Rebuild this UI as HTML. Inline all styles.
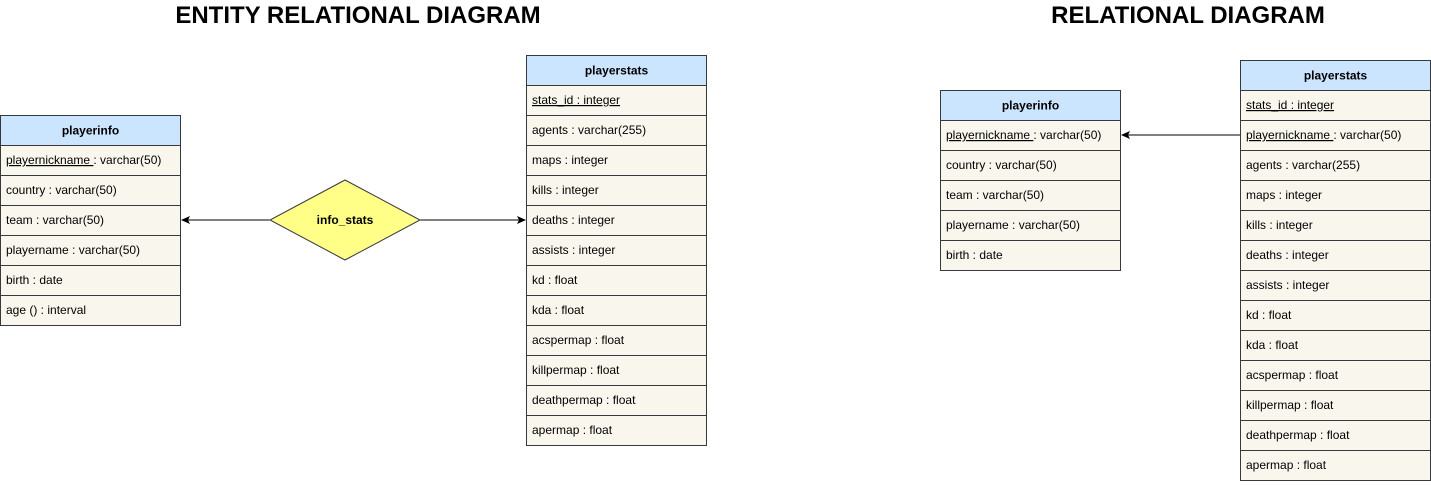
<!DOCTYPE html><html><head><style>
body{margin:0;background:#fff;width:1431px;height:481px;overflow:hidden;font-family:"Liberation Sans",Arial,sans-serif}
</style></head><body>
<svg width="1431" height="481" xmlns="http://www.w3.org/2000/svg" font-family="Liberation Sans, Arial, sans-serif">
<defs><marker id="a" markerWidth="10" markerHeight="10" refX="8" refY="4" orient="auto" markerUnits="userSpaceOnUse"><path d="M0,0 L9,4 L0,8 L2,4z" fill="#000"/></marker></defs>
<text x="358" y="23" text-anchor="middle" font-size="24" font-weight="bold">ENTITY RELATIONAL DIAGRAM</text>
<text x="1188" y="23" text-anchor="middle" font-size="24" font-weight="bold">RELATIONAL DIAGRAM</text>
<g id="tables" font-size="12" fill="#000"></g>
<line x1="270" y1="220" x2="182" y2="220" stroke="#000" marker-end="url(#a)"/>
<line x1="420" y1="220" x2="525" y2="220" stroke="#000" marker-end="url(#a)"/>
<polygon points="345,180 420,220 345,260 270,220" fill="#ffff88" stroke="#36393d"/>
<text x="345" y="224" text-anchor="middle" font-size="12" font-weight="bold">info_stats</text>
<line x1="1240" y1="135" x2="1122" y2="135" stroke="#000" marker-end="url(#a)"/>
</svg>
<script>
const T=[
[0.5,115.5,180,"playerinfo",["<u>playernickname </u>: varchar(50)","country : varchar(50)","team : varchar(50)","playername : varchar(50)","birth : date","age () : interval"]],
[526.5,55.5,180,"playerstats",["<u>stats_id : integer</u>","agents : varchar(255)","maps : integer","kills : integer","deaths : integer","assists : integer","kd : float","kda : float","acspermap : float","killpermap : float","deathpermap : float","apermap : float"]],
[940.5,90.5,180,"playerinfo",["<u>playernickname </u>: varchar(50)","country : varchar(50)","team : varchar(50)","playername : varchar(50)","birth : date"]],
[1240.5,60.5,190,"playerstats",["<u>stats_id : integer</u>","<u>playernickname </u>: varchar(50)","agents : varchar(255)","maps : integer","kills : integer","deaths : integer","assists : integer","kd : float","kda : float","acspermap : float","killpermap : float","deathpermap : float","apermap : float"]]];
let s="";
for(const [x,y,w,h,r] of T){
s+=`<rect x="${x}" y="${y}" width="${w}" height="30" fill="#cce5ff" stroke="#36393d"/><text x="${x+w/2}" y="${y+19}" text-anchor="middle" font-weight="bold">${h}</text>`;
r.forEach((t,i)=>{const yy=y+30+i*30;s+=`<rect x="${x}" y="${yy}" width="${w}" height="30" fill="#f9f7ed" stroke="#36393d"/><text x="${x+5.5}" y="${yy+18.5}">${t.replace(/<u>(.*?)<\/u>/,'<tspan text-decoration="underline">$1</tspan>')}</text>`;});
}
document.getElementById("tables").innerHTML=s;
</script>
</body></html>
